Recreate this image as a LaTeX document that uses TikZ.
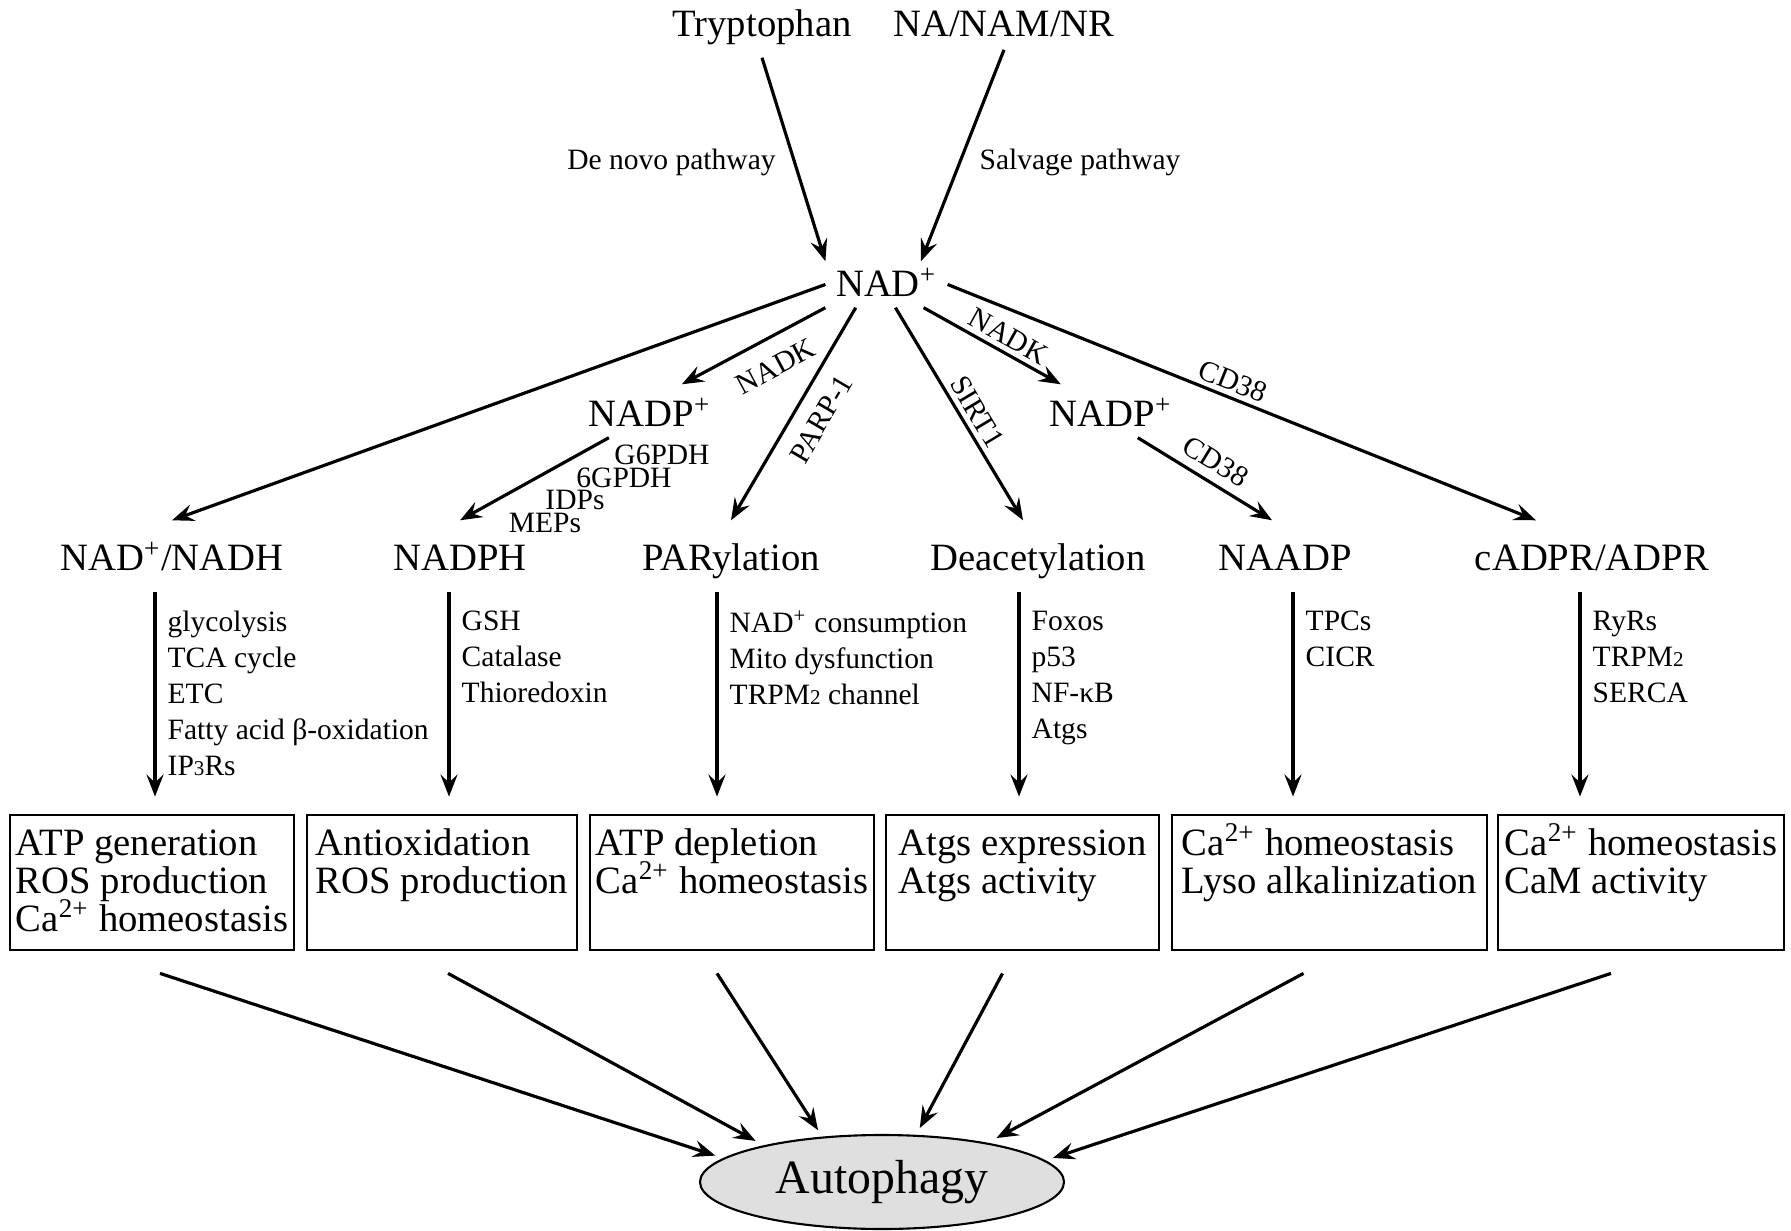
\documentclass[tikz,border=0pt]{standalone}
\usepackage{fontspec}
\setmainfont{Liberation Serif}
\usepackage{tikz}
\usetikzlibrary{shapes.geometric, arrows.meta}

\newcommand{\lowfig}[1]{{\fontsize{6}{6}\selectfont #1}}
\newcommand{\bigtext}{\fontsize{11}{10.8}\selectfont\lineskiplimit-5pt\relax}

\begin{document}
\begin{tikzpicture}[
        big/.style={font=\bigtext},
        small/.style={font=\fontsize{8.4}{10.25}\selectfont},
        source/.style={big, anchor=base},
        route/.style={small, anchor=base},
        hub/.style={big, anchor=base, text height=0.32cm, text depth=0pt, inner sep=1mm},
        product/.style={big, anchor=base, text height=0.42cm, text depth=0.08cm, inner sep=0.8mm},
        factors/.style={small, align=left, anchor=north west, inner xsep=1.2mm, inner ysep=0pt},
        effect/.style={draw, line width=0.8pt, big, align=left, text height=0.78cm, text depth=0.57cm, inner xsep=0pt, inner ysep=0pt},
        enzyme/.style={small, sloped, inner sep=0.5mm},
        outcome/.style={draw, ellipse, fill=gray!25, line width=0.6pt, minimum width=3.64cm, minimum height=0.94cm, inner sep=0pt, outer sep=0.8mm, font=\fontsize{13.6}{14}\selectfont},
        arrow/.style={-{Stealth[length=2.2mm, width=1.7mm, inset=0.8mm]}, line width=0.9pt},
        feed/.style={arrow, shorten <=0.4mm, shorten >=1.7mm}
    ]
    \useasboundingbox (0,0) rectangle (17.91,-12.31);

    \node (tryp) at (7.62,-0.37) [source] {Tryptophan};
    \node (nana) at (10.04,-0.37) [source] {NA/NAM/NR};
    \node (denovo) at (6.715,-1.70) [route] {De novo pathway};
    \node (salvage) at (10.80,-1.70) [route] {Salvage pathway};

    \node (nad) at (8.865,-2.97) [hub, text height=0.25cm] {NAD\textsuperscript{+}};
    \node (nadpl) at (6.50,-4.27) [hub] {NADP\textsuperscript{+}};
    \node (nadpr) at (11.11,-4.27) [hub] {NADP\textsuperscript{+}};

    \node (g6pdh) at (6.62,-4.55) [small] {G6PDH};
    \node (gpdh) at (6.24,-4.78) [small] {6GPDH};
    \node (idps) at (5.75,-5.00) [small] {IDPs};
    \node (meps) at (5.45,-5.23) [small] {MEPs};

    \node (nadh) at (1.72,-5.71) [product] {NAD\textsuperscript{+}/NADH};
    \node (nadph) at (4.60,-5.71) [product] {NADPH};
    \node (parylation) at (7.31,-5.71) [product] {PARylation};
    \node (deacetylation) at (10.38,-5.71) [product] {Deacetylation};
    \node (naadp) at (12.85,-5.71) [product] {NAADP};
    \node (cadpr) at (15.92,-5.71) [product] {cADPR/ADPR};

    \node (nadhlist) at (1.55,-6.10) [factors] {glycolysis\\TCA cycle\\ETC\\Fatty acid β-oxidation\\IP\lowfig{3}Rs};
    \node (nadphlist) at (4.49,-6.10) [factors] {GSH\\Catalase\\Thioredoxin};
    \node (parlist) at (7.17,-6.10) [factors] {NAD\textsuperscript{+} consumption\\Mito dysfunction\\TRPM\lowfig{2} channel};
    \node (deaclist) at (10.19,-6.10) [factors] {Foxos\\p53\\NF-κB\\Atgs};
    \node (naadplist) at (12.93,-6.10) [factors] {TPCs\\CICR};
    \node (cadprlist) at (15.80,-6.10) [factors] {RyRs\\TRPM\lowfig{2}\\SERCA};

    \node (energy) at (1.52,-8.825) [effect, minimum width=2.84cm, text height=1.16cm, text depth=0.19cm] {ATP generation\\ROS production\\Ca\textsuperscript{2+} homeostasis};
    \node (redox) at (4.42,-8.825) [effect, minimum width=2.70cm] {Antioxidation\\ROS production};
    \node (depletion) at (7.32,-8.825) [effect, minimum width=2.84cm] {ATP depletion\\Ca\textsuperscript{2+} homeostasis};
    \node (atgs) at (10.225,-8.825) [effect, minimum width=2.73cm] {Atgs expression\\Atgs activity};
    \node (lyso) at (13.295,-8.825) [effect, minimum width=3.15cm] {Ca\textsuperscript{2+} homeostasis\\Lyso alkalinization};
    \node (calmod) at (16.41,-8.825) [effect, minimum width=2.86cm] {Ca\textsuperscript{2+} homeostasis\\CaM activity};

    \node (autophagy) at (8.82,-11.82) [outcome] {Autophagy};

    \draw [arrow] (tryp.south) -- (nad.north west);
    \draw [arrow] (nana.south) -- (nad.34);
    \draw [arrow] (nad.west) -- (nadh.north);
    \draw [arrow] (nad.south west) -- node [enzyme, below=1.2mm, pos=0.44] {NADK} (nadpl.40);
    \draw [arrow] (nad.217) -- node [enzyme, below=1mm, pos=0.46] {PARP-1} (parylation.north);
    \draw [arrow] (nad.291) -- node [enzyme, above=0pt, pos=0.53] {SIRT1} (deacetylation.114);
    \draw [arrow] (nad.328) -- node [enzyme, above=0pt, pos=0.56] {NADK} (nadpr.152);
    \draw [arrow] (nad.east) -- node [enzyme, above=0pt, pos=0.475] {CD38} (cadpr.149);
    \draw [arrow] (nadpl.213) -- (nadph.north);
    \draw [arrow] (nadpr.315) -- node [enzyme, above=0.4mm] {CD38} (naadp.111);

    \draw [feed] (nadh.south -| nadhlist.west) -- (energy.north -| nadhlist.west);
    \draw [feed] (nadph.south -| nadphlist.west) -- (redox.north -| nadphlist.west);
    \draw [feed] (parylation.south -| parlist.west) -- (depletion.north -| parlist.west);
    \draw [feed] (deacetylation.south -| deaclist.west) -- (atgs.north -| deaclist.west);
    \draw [feed] (naadp.south -| naadplist.west) -- (lyso.north -| naadplist.west);
    \draw [feed] (cadpr.south -| cadprlist.west) -- (calmod.north -| cadprlist.west);

    \draw [arrow] ([xshift=0.8mm, yshift=-2.2mm]energy.south) -- (autophagy.171);
    \draw [arrow] ([xshift=0.6mm, yshift=-2.2mm]redox.south) -- (autophagy.162);
    \draw [arrow] ([xshift=-1.5mm, yshift=-2.2mm]depletion.south) -- (autophagy.141);
    \draw [arrow] ([xshift=-2mm, yshift=-2.2mm]atgs.south) -- (autophagy.55);
    \draw [arrow] ([xshift=-2.6mm, yshift=-2.2mm]lyso.south) -- (autophagy.21);
    \draw [arrow] ([xshift=-3mm, yshift=-2.2mm]calmod.south) -- (autophagy.8);

\end{tikzpicture}
\end{document}
